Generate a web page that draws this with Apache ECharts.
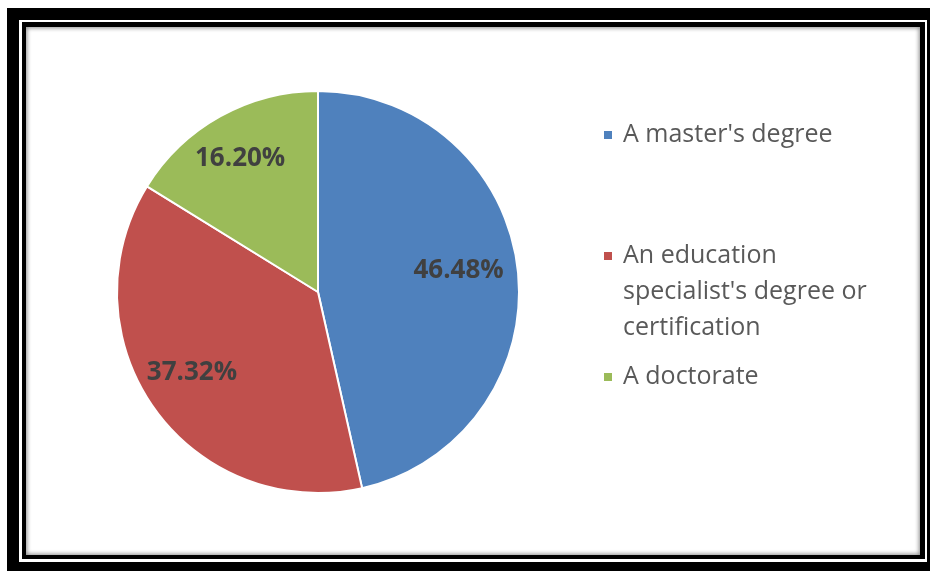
<!DOCTYPE html>
<html>
<head>
<meta charset="utf-8">
<script src="https://cdn.jsdelivr.net/npm/echarts@6/dist/echarts.min.js"></script>
<style>
  html, body { margin: 0; padding: 0; background: #fff; width: 930px; height: 571px; overflow: hidden; }
  .f { position: absolute; box-sizing: border-box; }
  #a { left: 7px; top: 8px; width: 923px; height: 563px; background: #000; }
  #b { left: 19px; top: 20px; width: 908px; height: 542px; background: #fff; }
  #c { left: 22px; top: 22px; width: 903px; height: 537px; background: #000; }
  #d { left: 26px; top: 27px; width: 894px; height: 528px; background: #fff; box-shadow: inset 0 0 4px 1px #8a8a8a; }
  #chart { position: absolute; left: 0; top: 0; width: 930px; height: 571px; }
</style>
</head>
<body>
<div class="f" id="a"></div>
<div class="f" id="b"></div>
<div class="f" id="c"></div>
<div class="f" id="d"></div>
<div id="chart"></div>
<script>
const categories = ["A master's degree", "An education specialist's degree or certification", "A doctorate"];
const legendText = ["A master's degree", "\n\nAn education\nspecialist's degree or\ncertification", "A doctorate"];
const values = [46.48, 37.32, 16.20];
const colors = ['#4F81BD', '#C0504D', '#9BBB59'];

const data = categories.map((n, i) => ({ name: n, value: values[i], itemStyle: { color: colors[i] } }));

const chart = echarts.init(document.getElementById('chart'), null, { renderer: 'canvas' });
chart.setOption({
  backgroundColor: 'transparent',
  animation: false,
  legend: {
    orient: 'vertical',
    left: 602,
    top: 117,
    padding: 0,
    itemGap: 13,
    itemWidth: 10,
    itemHeight: 10,
    icon: 'rect',
    data: categories,
    formatter: name => legendText[categories.indexOf(name)],
    textStyle: { fontFamily: 'Open Sans', fontSize: 25, color: '#595959', lineHeight: 36, padding: [0, 0, 0, 5] }
  },
  series: [
    {
      type: 'pie',
      center: [318, 292],
      radius: 201,
      startAngle: 90,
      clockwise: true,
      itemStyle: { borderColor: '#fff', borderWidth: 2 },
      label: { show: false },
      labelLine: { show: false },
      emphasis: { disabled: true },
      data: data
    },
    {
      type: 'pie',
      center: [318, 292],
      radius: [88, 201],
      startAngle: 90,
      clockwise: true,
      silent: true,
      itemStyle: { color: 'transparent', opacity: 0 },
      label: {
        show: true, position: 'inside', opacity: 1,
        offset: [-6, -5],
        formatter: p => p.value.toFixed(2) + '%',
        fontFamily: 'Open Sans', fontWeight: 'bold', fontSize: 26, color: '#404040'
      },
      labelLine: { show: false },
      emphasis: { disabled: true },
      data: categories.map((n, i) => ({ name: n, value: values[i] }))
    }
  ]
});
</script>
</body>
</html>
